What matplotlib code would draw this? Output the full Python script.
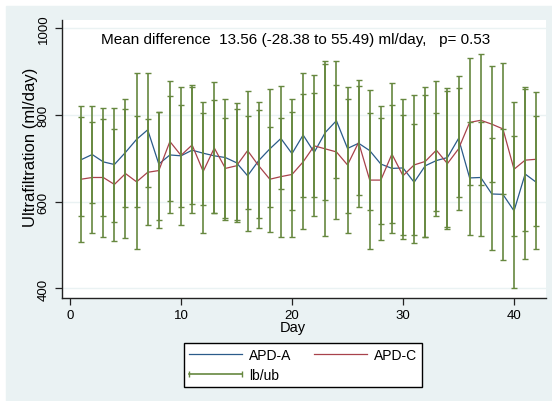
import matplotlib
matplotlib.use('Agg')
import matplotlib.pyplot as plt
from matplotlib.lines import Line2D
from matplotlib.legend_handler import HandlerLine2D
from matplotlib.patches import Rectangle
import numpy as np

plt.rcParams['font.family'] = ['Liberation Sans', 'DejaVu Sans']

# Stata s2color-ish palette
NAVY = '#2b5b8a'
MAROON = '#a8424b'
FOREST = '#66883f'
BLUISH = '#eaf2f3'

days = list(range(1, 43))

# mean ultrafiltration per day (ml/day)
apd_a = [697, 709, 692, 686, 714, 744, 766, 687, 708, 706, 719, 712, 706, 702,
         690, 660, 695, 722, 746, 711, 754, 714, 760, 787, 723, 735, 718, 687,
         677, 678, 645, 683, 695, 702, 746, 655, 656, 618, 617, 579, 664, 645]
apd_c = [652, 656, 656, 640, 665, 646, 668, 672, 739, 707, 731, 670, 724, 677,
         683, 718, 683, 652, 658, 663, 692, 729, 722, 715, 685, 737, 650, 650,
         710, 660, 685, 693, 719, 688, 722, 783, 788, 779, 768, 675, 696, 698]

# lower / upper bounds
a_lb = [568, 596, 567, 553, 589, 587, 635, 559, 573, 546, 575, 593, 574, 563,
        558, 533, 562, 588, 630, 581, 611, 568, 603, 655, 575, 589, 580, 549,
        529, 515, 504, 518, 579, 542, 611, 524, 522, 488, 466, 402, 468, 492]
a_ub = [821, 821, 816, 816, 838, 898, 896, 808, 843, 864, 870, 831, 835, 838,
        827, 798, 831, 860, 868, 837, 898, 850, 917, 925, 865, 881, 858, 822,
        824, 837, 780, 847, 804, 862, 889, 783, 783, 748, 768, 751, 860, 797]
c_lb = [508, 528, 519, 509, 516, 492, 546, 540, 601, 589, 595, 529, 574, 559,
        553, 583, 540, 531, 518, 519, 538, 612, 521, 560, 529, 615, 492, 512,
        551, 524, 524, 518, 568, 538, 582, 638, 638, 645, 618, 520, 532, 543]
c_ub = [795, 783, 792, 768, 814, 798, 791, 808, 878, 824, 864, 805, 877, 793,
        814, 856, 812, 773, 794, 806, 848, 892, 925, 870, 838, 866, 805, 794,
        875, 801, 846, 865, 878, 855, 862, 932, 940, 914, 921, 831, 864, 854]

title = 'Mean difference  13.56 (-28.38 to 55.49) ml/day,   p= 0.53'

fig = plt.figure(figsize=(5.52, 4.02), dpi=100)
fig.patch.set_facecolor('white')
# graph region background
fig.add_artist(Rectangle((6 / 552, 0.0), 1 - 6 / 552, 1 - 7 / 402,
                         transform=fig.transFigure, color=BLUISH, zorder=0))

ax = fig.add_axes([62 / 552, 103 / 402, 484 / 552, 278.3 / 402])
ax.set_facecolor('white')

line_a, = ax.plot(days, apd_a, color=NAVY, lw=0.9, zorder=3)
line_c, = ax.plot(days, apd_c, color=MAROON, lw=0.9, zorder=3)

for lb, ub in [(a_lb, a_ub), (c_lb, c_ub)]:
    lb = np.array(lb)
    ub = np.array(ub)
    mid = (lb + ub) / 2
    ax.errorbar(days, mid, yerr=[mid - lb, ub - mid], fmt='none',
                ecolor=FOREST, elinewidth=1.2, capsize=2.3, capthick=1.0,
                zorder=4)

ax.set_xlim(-0.72, 42.88)
ax.set_ylim(378, 1020)
ax.set_xticks([0, 10, 20, 30, 40])
ax.set_yticks([400, 600, 800, 1000])
ax.yaxis.grid(True, color=BLUISH, lw=1)
ax.set_axisbelow(True)

for s in ['top', 'right']:
    ax.spines[s].set_visible(False)
for s in ['left', 'bottom']:
    ax.spines[s].set_color('#222222')
    ax.spines[s].set_linewidth(1.0)

ax.tick_params(direction='out', length=5, width=0.9, color='#222222',
               labelsize=9.5, labelcolor='black')
ax.tick_params(axis='y', pad=4)
ax.tick_params(axis='x', pad=3)
for lab in ax.get_yticklabels():
    lab.set_rotation(90)
    lab.set_va('center')

ax.set_ylabel('Ultrafiltration (ml/day)', fontsize=12, va='center')
ax.yaxis.set_label_coords(-0.066, 0.546)
ax.set_xlabel('Day', fontsize=10.5, va='center')
ax.xaxis.set_label_coords(0.477, -0.104)

ax.text(0.4835, 0.93, title, transform=ax.transAxes, ha='center',
        va='center', fontsize=11)

eb_proxy = Line2D([0, 1], [0, 0], color=FOREST, lw=1.2, marker='|',
                  markersize=5, markeredgewidth=1.0)
leg = fig.legend(handles=[line_a, eb_proxy, line_c],
                 labels=['APD-A', 'lb/ub', 'APD-C'],
                 ncol=2, loc='center', bbox_to_anchor=(0.549, 0.0896),
                 frameon=True, fancybox=False, edgecolor='black',
                 framealpha=1, fontsize=10, handlelength=3.8,
                 columnspacing=1.6, handletextpad=0.5, labelspacing=0.4,
                 borderpad=0.4,
                 handler_map={eb_proxy: HandlerLine2D(numpoints=2,
                                                      marker_pad=0)})
leg.get_frame().set_linewidth(1.0)

fig.savefig('out.png', dpi=100, facecolor=fig.get_facecolor())
